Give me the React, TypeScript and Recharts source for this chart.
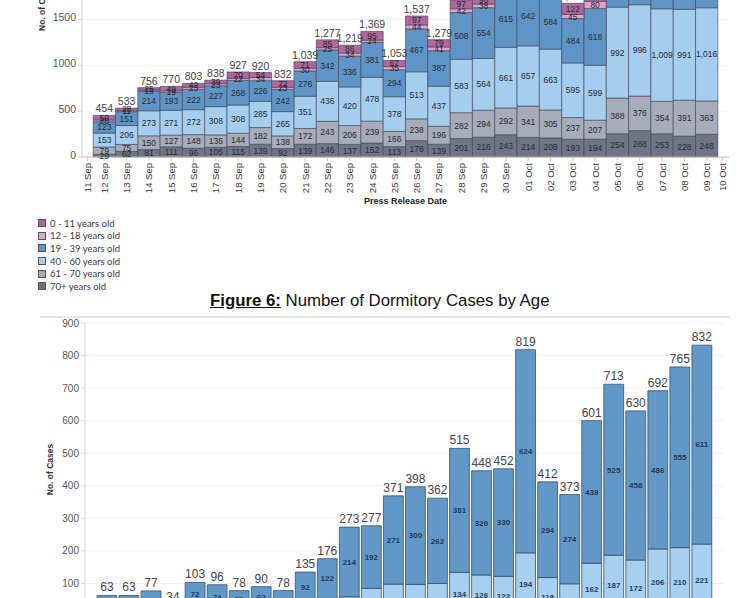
import React from 'react'
import { Bar, BarChart, CartesianGrid, LabelList, XAxis, YAxis } from 'recharts'

// press release dates shown on the axis; bars run 12 Sep .. 09 Oct
const dates = [
  '11 Sep', '12 Sep', '13 Sep', '14 Sep', '15 Sep', '16 Sep', '17 Sep', '18 Sep', '19 Sep', '20 Sep',
  '21 Sep', '22 Sep', '23 Sep', '24 Sep', '25 Sep', '26 Sep', '27 Sep', '28 Sep', '29 Sep', '30 Sep',
  '01 Oct', '02 Oct', '03 Oct', '04 Oct', '05 Oct', '06 Oct', '07 Oct', '08 Oct', '09 Oct', '10 Oct',
]

// all cases by age (figure 5, top of it cropped)
const age70plus = [29, 62, 81, 111, 96, 105, 115, 139, 92, 139, 146, 137, 152, 113, 178, 139, 201, 216, 243, 214, 208, 193, 194, 254, 288, 253, 228, 248]
const age61to70 = [79, 75, 150, 127, 148, 136, 144, 182, 138, 172, 243, 206, 239, 166, 238, 196, 282, 294, 292, 341, 305, 237, 207, 388, 376, 354, 391, 363]
const age40to60 = [153, 206, 273, 271, 272, 308, 308, 285, 265, 351, 436, 420, 478, 378, 513, 437, 583, 564, 661, 657, 663, 595, 599, 992, 996, 1009, 991, 1016]
const age19to39 = [123, 151, 214, 193, 222, 227, 268, 226, 242, 276, 342, 336, 381, 294, 467, 387, 508, 554, 615, 642, 584, 484, 618, 700, 740, 700, 760, 720]
const age12to18 = [20, 11, 13, 19, 23, 23, 22, 34, 23, 30, 25, 34, 24, 35, 44, 41, 42, 38, 45, 40, 45, 45, 80, 40, 40, 40, 40, 40]
const age0to11 = [50, 28, 25, 49, 42, 39, 70, 54, 72, 71, 85, 86, 95, 67, 97, 79, 97, 90, 100, 95, 110, 122, 100, 100, 100, 100, 100, 100]

// dormitory cases by age (figure 6, bottom cropped)
const dormTotals = [63, 63, 77, 34, 103, 96, 78, 90, 78, 135, 176, 273, 277, 371, 398, 362, 515, 448, 452, 819, 412, 373, 601, 713, 630, 692, 765, 832]
const dorm40to60 = [18, 19, 16, 10, 31, 22, 23, 28, 21, 43, 54, 59, 85, 98, 97, 100, 134, 126, 122, 194, 118, 99, 162, 187, 172, 206, 210, 221]
const dorm19to39 = [45, 44, 61, 24, 72, 74, 55, 62, 57, 92, 122, 214, 192, 271, 300, 262, 381, 320, 330, 624, 294, 274, 438, 525, 458, 486, 555, 611]

const topTicks = [0, 500, 1000, 1500, 2000, 2500]
const dormTicks = [0, 100, 200, 300, 400, 500, 600, 700, 800, 900]

// stack order, bottom first
const ageSeries = [
  { key: 'age70plus', name: '70+ years old', color: '#6f7584', values: age70plus },
  { key: 'age61to70', name: '61 - 70 years old', color: '#a8abb9', values: age61to70 },
  { key: 'age40to60', name: '40 - 60 years old', color: '#a5cdee', values: age40to60 },
  { key: 'age19to39', name: '19 - 39 years old', color: '#5f95c6', values: age19to39 },
  { key: 'age12to18', name: '12 - 18 years old', color: '#e2a2cb', values: age12to18 },
  { key: 'age0to11', name: '0 - 11 years old', color: '#b0679d', values: age0to11 },
]

const topRows = age70plus.map((_, i) => {
  const row: Record<string, number> = { x: i + 1, total: 0 }
  ageSeries.forEach((s) => {
    row[s.key] = s.values[i]
    row.total += s.values[i]
  })
  return row
})

const dormRows = dormTotals.map((total, i) => ({
  x: i + 1,
  total,
  age40to60: dorm40to60[i],
  age19to39: dorm19to39[i],
}))

// first and last date sit a little inside the bar band
const tickPositions = dates.map((_, i) => (i === 0 ? 0.25 : i === dates.length - 1 ? 28.7 : i))
const dateFor = (v: number) => dates[tickPositions.indexOf(v)] ?? ''
const withComma = (v: any) => Number(v).toLocaleString('en-US')

const font = '"Liberation Sans", Arial, sans-serif'

function DateTick({ x, y, payload }: any) {
  return (
    <text
      x={x}
      y={y}
      transform={`rotate(-90 ${x} ${y})`}
      textAnchor="end"
      dominantBaseline="central"
      fontSize={9.5}
      fill="#3a3a3a"
    >
      {dateFor(payload.value)}
    </text>
  )
}

function AllCasesChart() {
  const last = ageSeries[ageSeries.length - 1].key
  return (
    <div style={{ position: 'absolute', left: 0, top: -86.5 }}>
      <BarChart
        width={747}
        height={295}
        data={topRows}
        barSize={22.3}
        margin={{ top: 10, right: 18, left: 0, bottom: 5 }}
      >
        <CartesianGrid vertical={false} stroke="#efefef" />
        <XAxis
          type="number"
          dataKey="x"
          domain={[0, 29]}
          ticks={tickPositions}
          interval={0}
          allowDataOverflow
          tick={<DateTick />}
          tickSize={4}
          tickMargin={2}
          stroke="#c9c9c9"
          height={47}
          label={{
            value: 'Press Release Date',
            position: 'insideBottom',
            offset: 0,
            fontSize: 9,
            fontWeight: 700,
            fill: '#222',
          }}
        />
        <YAxis
          type="number"
          domain={[0, 2500]}
          ticks={topTicks}
          width={82}
          tickSize={4}
          tickMargin={2}
          stroke="#cfcfcf"
          tick={{ fontSize: 10.5, fill: '#555', dy: -2 }}
        />
        {ageSeries.map((s) => (
          <Bar
            key={s.key}
            dataKey={s.key}
            name={s.name}
            stackId="all"
            fill={s.color}
            stroke="#3d4250"
            strokeWidth={0.6}
            isAnimationActive={false}
          >
            <LabelList
              dataKey={s.key}
              position="center"
              fontSize={8.5}
              fill="#262b33"
              formatter={withComma}
            />
            {s.key === last && (
              <LabelList
                dataKey="total"
                position="top"
                offset={3}
                fontSize={10.5}
                fill="#444"
                formatter={withComma}
              />
            )}
          </Bar>
        ))}
      </BarChart>
    </div>
  )
}

function DormChart() {
  return (
    <div style={{ position: 'absolute', left: 0, top: 312.7 }}>
      <BarChart
        width={747}
        height={355}
        data={dormRows}
        barSize={22.04}
        margin={{ top: 10, right: 23, left: 0, bottom: 5 }}
      >
        <CartesianGrid vertical={false} stroke="#f1f1f1" />
        <XAxis
          type="number"
          dataKey="x"
          domain={[0, 29]}
          ticks={tickPositions}
          interval={0}
          allowDataOverflow
          tick={<DateTick />}
          tickSize={4}
          tickMargin={2}
          stroke="#c9c9c9"
          height={47}
        />
        <YAxis
          type="number"
          domain={[0, 900]}
          ticks={dormTicks}
          width={85}
          tickSize={4}
          tickMargin={2}
          stroke="#d6d6d6"
          tick={{ fontSize: 10, fill: '#555' }}
          label={{
            value: 'No. of Cases',
            angle: -90,
            position: 'insideLeft',
            offset: 50,
            fontSize: 8.5,
            fontWeight: 700,
            fill: '#333',
            style: { textAnchor: 'middle' },
          }}
        />
        <Bar
          dataKey="age40to60"
          name="40 - 60 years old"
          stackId="dorm"
          fill="#a7cfef"
          stroke="#34506d"
          strokeWidth={0.8}
          isAnimationActive={false}
        >
          <LabelList dataKey="age40to60" position="center" fontSize={8} fontWeight={600} fill="#23405f" />
        </Bar>
        <Bar
          dataKey="age19to39"
          name="19 - 39 years old"
          stackId="dorm"
          fill="#6198c8"
          stroke="#34506d"
          strokeWidth={0.8}
          isAnimationActive={false}
        >
          <LabelList dataKey="age19to39" position="center" fontSize={8} fontWeight={600} fill="#1f3a58" />
          <LabelList dataKey="total" position="top" offset={4} fontSize={12} fill="#444" />
        </Bar>
      </BarChart>
    </div>
  )
}

function AgeLegend() {
  return (
    <div style={{ position: 'absolute', left: 38, top: 217, fontFamily: 'Lato, sans-serif', fontSize: 9.5, color: '#3a3a3a' }}>
      {[...ageSeries].reverse().map((s) => (
        <div key={s.key} style={{ display: 'flex', alignItems: 'center', height: 12.6 }}>
          <span
            style={{
              display: 'inline-block',
              width: 6,
              height: 6,
              background: s.color,
              border: '1px solid #555',
              marginRight: 4,
            }}
          />
          {s.name}
        </div>
      ))}
    </div>
  )
}

export default function App() {
  return (
    <div
      style={{
        position: 'absolute',
        left: 0,
        top: 0,
        width: 747,
        height: 598,
        overflow: 'hidden',
        background: '#fff',
        fontFamily: font,
      }}
    >
      <AllCasesChart />
      <div
        style={{
          position: 'absolute',
          left: 37,
          top: 31,
          transform: 'rotate(-90deg)',
          transformOrigin: '0 0',
          whiteSpace: 'nowrap',
          fontSize: 8.5,
          fontWeight: 700,
          color: '#333',
        }}
      >
        No. of Cases
      </div>
      <AgeLegend />
      <div style={{ position: 'absolute', left: 210, top: 291, fontSize: 16.8, color: '#111', whiteSpace: 'nowrap' }}>
        <span style={{ fontWeight: 700, textDecoration: 'underline' }}>Figure 6:</span> Number of Dormitory Cases by Age
      </div>
      <div style={{ position: 'absolute', left: 40, top: 316, width: 690, height: 2, background: '#e6e6e6' }} />
      <DormChart />
    </div>
  )
}
